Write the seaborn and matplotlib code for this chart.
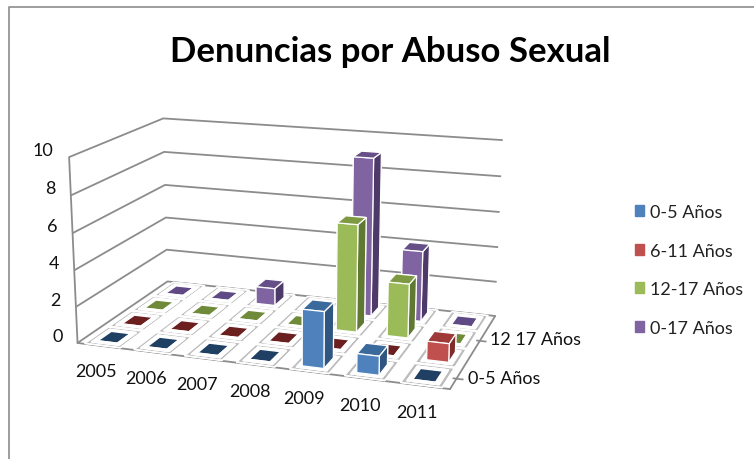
import numpy as np
import matplotlib
matplotlib.use('Agg')
import matplotlib.pyplot as plt
import seaborn as sns
from matplotlib.patches import Patch

years = ['2005', '2006', '2007', '2008', '2009', '2010', '2011']
series = ['0-5 Años', '6-11 Años', '12-17 Años', '0-17 Años']
edad_0_5 = [0, 0, 0, 0, 3, 1, 0]
edad_6_11 = [0, 0, 0, 0, 0, 0, 1]
edad_12_17 = [0, 0, 0, 0, 6, 3, 0]
edad_0_17 = [0, 0, 1, 0, 9, 4, 0]
values = [edad_0_5, edad_6_11, edad_12_17, edad_0_17]

sns.set_theme(style='white')
plt.rcParams['font.family'] = ['Lato', 'DejaVu Sans']

# office 2007 colors: front, top, side
front = sns.color_palette(['#4f81bd', '#c0504d', '#9bbb59', '#8064a2'])
top = sns.color_palette(['#3a6a9c', '#a03a38', '#7d9a42', '#664e86'])
side = sns.color_palette(['#2f5680', '#7f2c2a', '#5f7832', '#4e3a68'])
flat = sns.color_palette(['#1f3f63', '#6b1f1f', '#6f8b3a', '#5f4a85'])

fig = plt.figure(figsize=(7.54, 4.6), dpi=100)
ax = fig.add_axes([-0.097, -0.141, 0.95, 1.2], projection='3d', computed_zorder=False)
ax.view_init(elev=15.5, azim=-71)
ax.set_proj_type('persp', focal_length=0.45)
ax.set_box_aspect((3.2, 1.85, 1.6), zoom=0.83)

wx, wy = 0.4, 0.55
order = 1
for j in range(len(series) - 1, -1, -1):
    for i in range(len(years)):
        x0, y0 = i + 0.5 - wx / 2, j + 0.5 - wy / 2
        # shadow and white pad on the floor
        ax.bar3d(x0 - 0.16, y0 - 0.2, 0, wx + 0.32, wy + 0.4, 0, color='#bdbdbd',
                 shade=False, zorder=order)
        ax.bar3d(x0 - 0.08, y0 - 0.09, 0, wx + 0.16, wy + 0.18, 0, color='white',
                 shade=False, zorder=order + 0.1)
        order += 1
for j in range(len(series) - 1, -1, -1):
    for i in range(len(years)):
        v = values[j][i]
        x0, y0 = i + 0.5 - wx / 2, j + 0.5 - wy / 2
        if v == 0:
            ax.bar3d(x0, y0, 0, wx, wy, 0, color=flat[j], shade=False, zorder=order)
        else:
            # faces: bottom, top, front, back, left, right
            cols = [side[j], top[j], front[j], side[j], side[j], side[j]]
            ax.bar3d(x0, y0, 0, wx, wy, v, color=cols, edgecolor='white', linewidth=0.9,
                     shade=False, zorder=order)
        order += 1

ax.set_xlim(0, 7)
ax.set_ylim(0, 4)
ax.set_zlim(0, 10)
ax.set_xticks(np.arange(len(years)) + 0.5)
ax.set_xticklabels(years, fontsize=13, color='#111111')
ax.set_yticks([0.5, 2.5])
ax.set_yticklabels(['0-5 Años', '12 17 Años'], fontsize=13, color='#111111', ha='left', va='bottom')
ax.set_zticks([0, 2, 4, 6, 8, 10])
ax.set_zticklabels(['0', '2', '4', '6', '8', '10'], fontsize=13, color='#111111',
                   ha='right', va='bottom')
ax.zaxis.set_ticks_position('lower')
ax.tick_params(axis='x', pad=6)
ax.tick_params(axis='y', pad=-2, color='#8c8c8c')
ax.tick_params(axis='z', pad=-1)

for a in (ax.xaxis, ax.yaxis, ax.zaxis):
    a.set_pane_color((1, 1, 1, 0))
    a.pane.set_edgecolor('#8c8c8c')
    a.line.set_color('#8c8c8c')
    a.line.set_linewidth(1.3)
ax.xaxis._axinfo['grid'].update(linewidth=0)
ax.yaxis._axinfo['grid'].update(linewidth=0)
ax.zaxis._axinfo['grid'].update(color='#8c8c8c', linewidth=1.3)
ax.xaxis._axinfo['tick'].update(inward_factor=0, outward_factor=0)
ax.yaxis._axinfo['tick'].update(color='#8c8c8c')
ax.zaxis._axinfo['tick'].update(inward_factor=0, outward_factor=0)

fig.text(0.518, 0.886, 'Denuncias por Abuso Sexual', fontsize=25, fontweight='bold',
         ha='center', va='center', color='black')

handles = [Patch(color=c) for c in front]
fig.legend(handles, series, loc='center left', bbox_to_anchor=(0.82, 0.411), frameon=False,
           fontsize=13, handlelength=0.55, handleheight=0.55, labelspacing=1.25, handletextpad=0.3,
           labelcolor='#222222')

# frame of the pasted picture
fig.add_artist(plt.Line2D([0.012, 0.012, 1], [0, 0.982, 0.982], color='#8c8c8c', lw=1.2))

fig.savefig('out.png', dpi=100)
